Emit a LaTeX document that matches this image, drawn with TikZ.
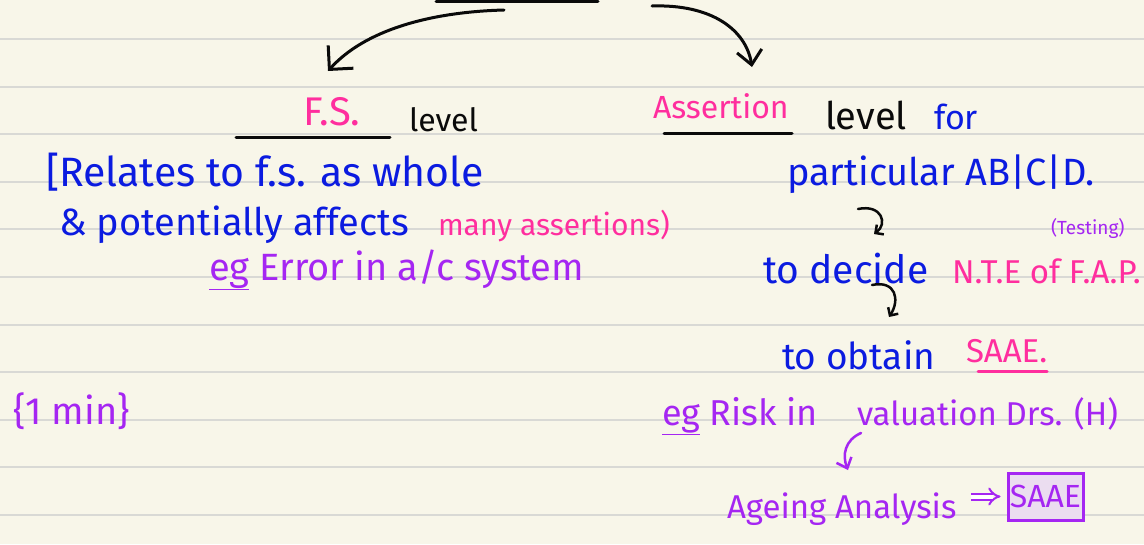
\documentclass[tikz,border=0pt]{standalone}
\usepackage{fontspec}
\setmainfont{Fira Sans}
\usetikzlibrary{arrows.meta,calc}

\definecolor{paper}{HTML}{F8F6E9}
\definecolor{ruling}{HTML}{D9D9D5}
\definecolor{ink}{HTML}{0A0A0A}
\definecolor{inkblue}{HTML}{0B1BE0}
\definecolor{inkpink}{HTML}{FF2E9E}
\definecolor{inkpurple}{HTML}{A526F2}
\definecolor{boxfill}{HTML}{EBDDF0}

\newcommand{\fsz}[1]{\fontsize{#1}{#1}\selectfont}

\tikzset{
  txt/.style={anchor=base west, inner sep=0pt, outer sep=0pt},
  pen/.style={line width=3pt, line cap=round, line join=round},
  bigarrow/.style={pen, ink, -{Straight Barb[length=#1, width=2*#1, line width=3pt]}},
  hookarrow/.style={line width=2.5pt, line cap=round, ink,
    -{Straight Barb[length=6pt, width=12pt, line width=2.5pt]}},
  underl/.style={line width=3pt, line cap=round},
}

\begin{document}
\begin{tikzpicture}[x=1pt, y=-1pt]
  % paper and ruled lines
  \fill[paper] (0,0) rectangle (1144,544);
  \useasboundingbox (0,0) rectangle (1144,544);
  \foreach \k in {0,...,10}
    \draw[ruling, line width=2pt] (0,{39+47.6*\k}) -- (1144,{39+47.6*\k});

  % heading underline (heading itself runs off the top)
  \draw[underl, ink] (436,1) -- (598,1);
  \coordinate (headL) at (504,10);
  \coordinate (headR) at (652,6);

  % ---- left branch: F.S. level ----
  \node[txt, inkpink, font=\fsz{40}] (fs) at (303,125) {F.S.};
  \node[txt, ink, font=\fsz{32}] (fslvl) at (409,131) {level};
  \draw[underl, ink] (236,137) -- (390,137);
  \coordinate (fsIn) at (328,71);
  \draw[bigarrow=17pt] (headL) .. controls (430,12) and (365,30) .. (fsIn);

  \node[txt, inkblue, font=\fsz{41}] (rel) at (46,186) {[Relates to f.s. as whole};
  \node[txt, inkblue, font=\fsz{38}] (pot) at (59,235) {\& potentially affects};
  \node[txt, inkpink, font=\fsz{30}] (many) at (438,235) {many assertions)};
  \node[txt, inkpurple, font=\fsz{38}] (eg1) at (209,280) {\underline{eg} Error in a/c system};

  \node[txt, inkpurple, font=\fsz{38}] (min) at (13,424) {\{1 min\}};

  % ---- right branch: Assertion level ----
  \node[txt, inkpink, font=\fsz{32}] (asr) at (653,118) {Assertion};
  \node[txt, ink, font=\fsz{38}] (aslvl) at (825,129) {level};
  \node[txt, inkblue, font=\fsz{34}] (for) at (934,129) {for};
  \draw[underl, ink] (664,133) -- (792,133);
  \coordinate (asIn) at (752,67);
  \draw[pen, ink, -{Straight Barb[length=14pt, width=25pt, line width=3pt]}]
    (headR) .. controls (712,4) and (746,30) .. (asIn);

  \node[txt, inkblue, font=\fsz{38}] (part) at (787,185) {particular AB|C|D.};

  \coordinate (h1a) at (858,209);
  \coordinate (h1b) at (874,234);
  \draw[hookarrow] (h1a) .. controls (882,204) and (888,224) .. (h1b);

  \node[txt, inkpurple, font=\fsz{19}] (test) at (1051,234) {(Testing)};
  \node[txt, inkblue, font=\fsz{39}] (dec) at (763,283) {to decide};
  \node[txt, inkpink, font=\fsz{33}] (nte) at (952,283) {N.T.E of F.A.P.};

  \coordinate (h2a) at (872,285);
  \coordinate (h2b) at (889,317);
  \draw[hookarrow] (h2a) .. controls (896,280) and (900,300) .. (h2b);

  \node[txt, inkblue, font=\fsz{37}] (obt) at (782,369) {to obtain};
  \node[txt, inkpink, font=\fsz{33}] (saae1) at (966,362) {SAAE.};
  \draw[underl, inkpink] (978,371) -- (1047,371);

  \node[txt, inkpurple, font=\fsz{36}] (eg2) at (662,425) {\underline{eg} Risk in};
  \node[txt, inkpurple, font=\fsz{33}] (val) at (857,425) {valuation Drs. (H)};

  \coordinate (c1) at (861,433);
  \coordinate (c2) at (848,470);
  \draw[line width=2.5pt, line cap=round, inkpurple,
        -{Straight Barb[length=9pt, width=16pt, line width=2.5pt]}]
    (c1) .. controls (845,440) and (842,455) .. (c2);

  \node[txt, inkpurple, font=\fsz{33}] (age) at (727,518) {Ageing Analysis};
  \node[draw=inkpurple, line width=3pt, fill=boxfill, text=inkpurple,
        font=\fsz{32}, minimum width=75pt, minimum height=47pt, inner sep=0pt]
    (saae2) at (1045.5,496.5) {SAAE};
  \draw[inkpurple, line width=2pt, double distance=4pt,
        -{Implies[length=7pt, width=14pt]},
        shorten <=15pt, shorten >=6pt] (age.east |- saae2.west) -- (saae2.west);
\end{tikzpicture}
\end{document}
